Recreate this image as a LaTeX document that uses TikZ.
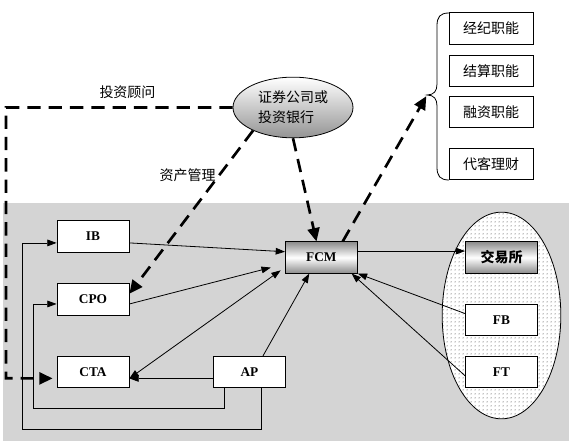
\documentclass[tikz,border=0pt]{standalone}
\usepackage{fontspec}
\setmainfont{Liberation Serif}
\newfontfamily\cjk{Noto Sans CJK SC}
\usetikzlibrary{arrows.meta,patterns,shapes.geometric}
\definecolor{bggray}{RGB}{212,212,212}

% sparse dots for the market ellipse
\pgfdeclarepatternformonly{sparsedots}{\pgfqpoint{-1pt}{-1pt}}{\pgfqpoint{2pt}{2pt}}{\pgfqpoint{3pt}{3pt}}
{\pgfpathcircle{\pgfqpoint{0pt}{0pt}}{0.45pt}\pgfusepath{fill}}

\tikzset{
  orgbox/.style={draw,fill=white,line width=0.6pt,minimum width=54pt,minimum height=23.5pt,inner sep=0pt,font=\fontsize{10}{12}\selectfont\bfseries},
  cnbox/.style={draw,fill=white,line width=0.6pt,minimum width=63pt,minimum height=23.5pt,inner sep=0pt,font=\cjk\fontsize{10.5}{12}\selectfont},
  shadebox/.style={orgbox,top color=black!45,bottom color=black!45,middle color=white},
  note/.style={inner sep=0pt,font=\cjk\fontsize{10.5}{12}\selectfont},
  link/.style={line width=0.6pt,->},
  bigdash/.style={line width=2pt,dash pattern=on 10pt off 6pt,-{Triangle[length=10pt,width=9pt]}}
}

\begin{document}
\begin{tikzpicture}[x=0.75pt,y=-0.75pt,>={Triangle[length=7pt,width=5pt]}]
\useasboundingbox (0,0) rectangle (569,441);
\fill [bggray] (3,203) rectangle (569,441);

% market ellipse
\node (mkt) [ellipse,draw,line width=0.6pt,minimum width=89pt,minimum height=155pt,inner sep=0pt,
  preaction={fill=white},pattern=sparsedots,pattern color=black] at (501.5,315.5) {};

\node (bank) [ellipse,draw,line width=0.6pt,minimum width=90pt,minimum height=45.5pt,inner sep=0pt,
  top color=white,bottom color=black!42,align=left,font=\cjk\fontsize{10.5}{15}\selectfont] at (293,107.5) {证券公司或\\投资银行};

\node (broker)  [cnbox] at (491,28.5) {经纪职能};
\node (settle)  [cnbox] at (491,71)   {结算职能};
\node (finance) [cnbox] at (491,112)  {融资职能};
\node (asset)   [cnbox] at (491,164)  {代客理财};

\node (ib)   [orgbox]   at (93,236.5)    {IB};
\node (cpo)  [orgbox]   at (93,299.5)    {CPO};
\node (cta)  [orgbox]   at (93,372)      {CTA};
\node (ap)   [orgbox]   at (249.5,372)   {AP};
\node (fcm)  [shadebox] at (321.4,257.5) {FCM};
\node (exch) [shadebox,font=\cjk\bfseries\fontsize{10.5}{12}\selectfont] at (501.5,257.5) {交易所};
\node (fb)   [orgbox]   at (501.5,320)   {FB};
\node (ft)   [orgbox]   at (501.5,372)   {FT};

\node (advice) [note] at (127.5,92)  {投资顾问};
\node (manage) [note] at (187.5,175) {资产管理};

% brace
\coordinate (tip) at (427,95);
\draw [line width=0.6pt] (449,13) .. controls (440,13) and (437,17) .. (437,26) -- (437,84)
  .. controls (437,91) and (434,95) .. (tip) .. controls (434,95) and (437,99) .. (437,106)
  -- (437,167) .. controls (437,176) and (440,180) .. (449,180);

% dashed links
\coordinate (c1) at (6,107.5);
\coordinate (c2) at (6,378.3);
\draw [bigdash,shorten >=3pt] (bank.west) -- (c1) -- (c2) -- (cta.190);
\draw [bigdash] (bank.210) to (cpo.9);
\draw [bigdash] (bank.south) to (fcm.107);
\draw [bigdash,shorten >=1pt] (fcm.37) to (tip);

% solid links
\coordinate (c3) at (33,408);
\coordinate (c4) at (22,429);
\draw [link] (ib.-10) to (fcm.171);
\draw [link,shorten >=11pt] (cpo.-7) to (fcm.190);
\draw [line width=0.6pt,<->,shorten >=4pt] (cta.-10) to (fcm.195);
\draw [link] (ap.50) to (fcm.-127);
\draw [link] (ap.190) to (cta.-10);
\draw [link] (ap.-147) |- (c3) |- (cpo.187);
\draw [link] (ap.-54) |- (c4) |- (ib.190);
\draw [link] (fcm.10) to (exch.170);
\draw [link] (fb.170) to (fcm.south east);
\draw [link] (ft.186) to (fcm.-28);
\end{tikzpicture}
\end{document}
